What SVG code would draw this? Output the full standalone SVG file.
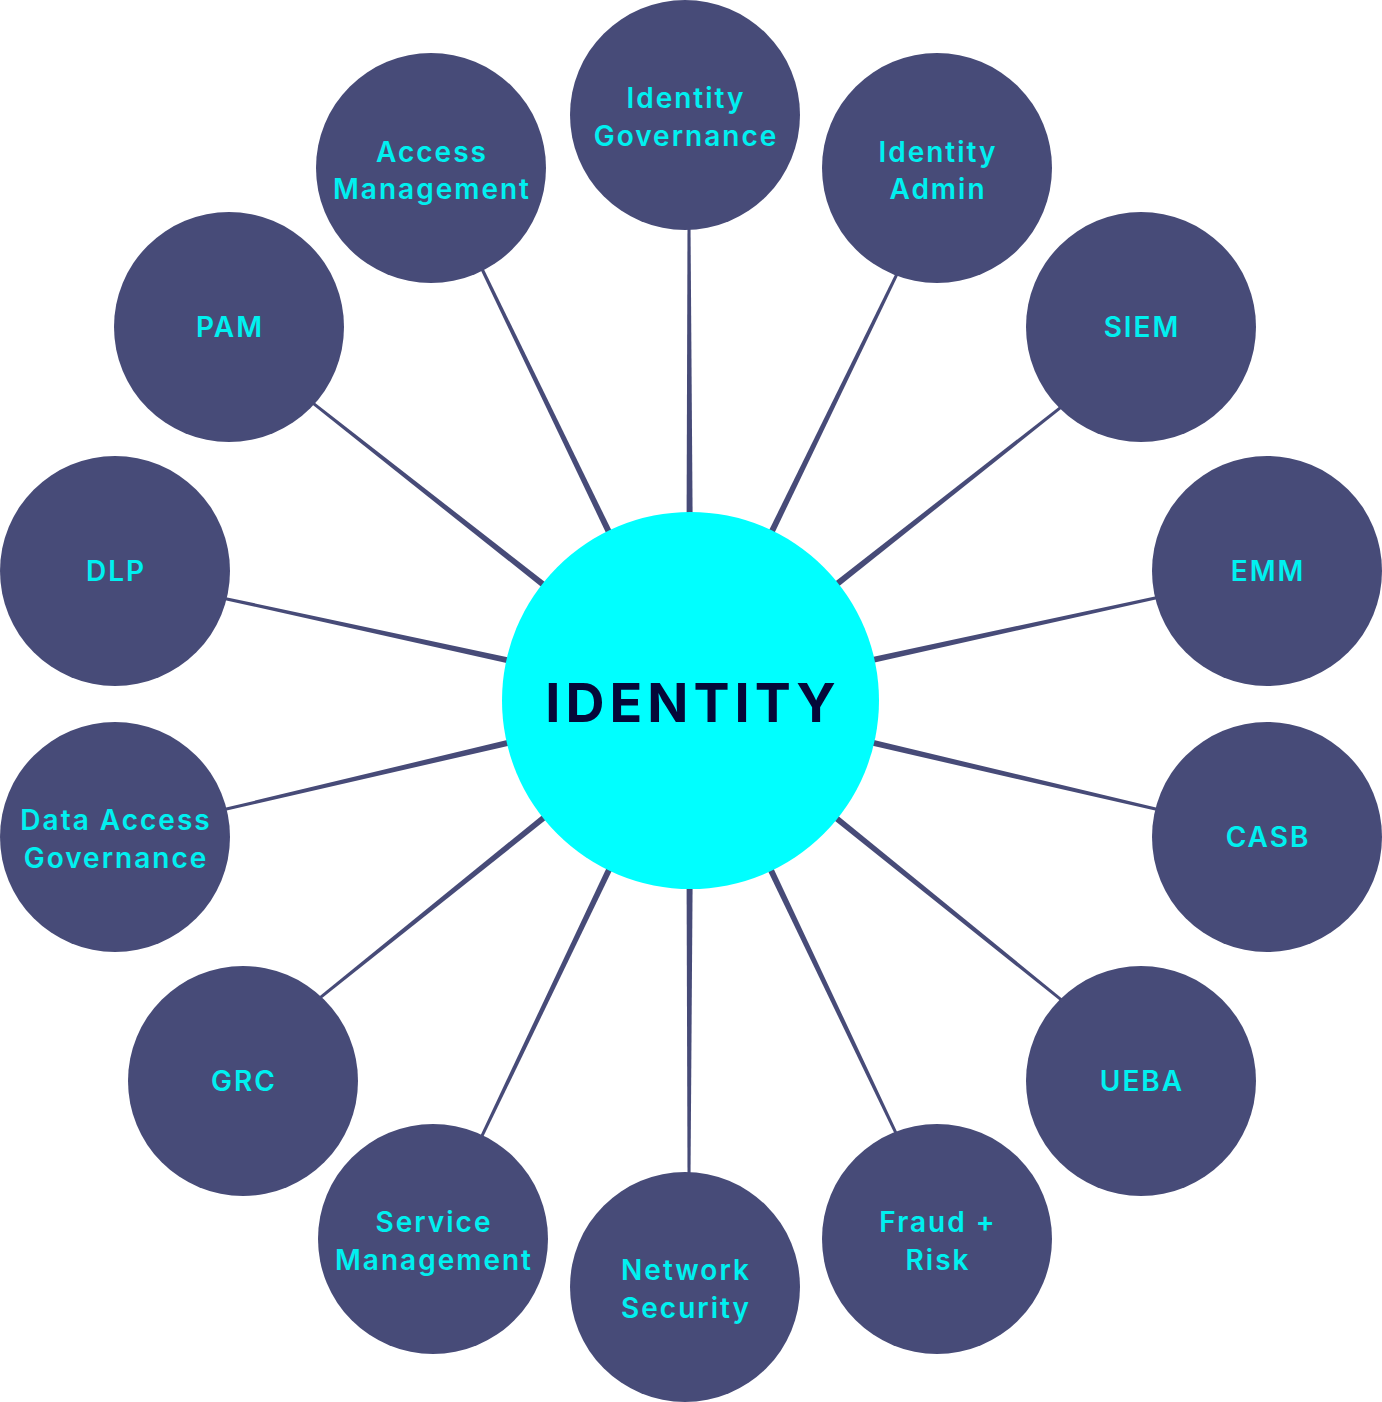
<svg xmlns="http://www.w3.org/2000/svg" width="1382" height="1402" viewBox="0 0 1382 1402">
<style>
.node{fill:#474b78}
.lbl{font-family:Inter,"Noto Sans","Liberation Sans",sans-serif;font-weight:600;font-size:28px;letter-spacing:2px;fill:#00f0f0;text-anchor:middle}
.conn{fill:#474b78}
.hub{fill:#00ffff}
.hubtxt{font-family:Inter,"Noto Sans","Liberation Sans",sans-serif;font-weight:700;font-size:54px;letter-spacing:5px;fill:#050838;text-anchor:middle}
</style>
<rect width="1382" height="1402" fill="#ffffff"/>
<g id="connectors">
<polygon class="conn" points="686.6,515 692.6,515 690.5,224 687.5,224"/>
<polygon class="conn" points="612.3,532.1 606.9,534.7 479.4,267.2 482.2,265.8"/>
<polygon class="conn" points="773.5,534.9 768.1,532.3 896.9,270.8 899.5,272.2"/>
<polygon class="conn" points="546.5,583.2 542.7,588.0 309.2,402.1 311.0,399.7"/>
<polygon class="conn" points="837.1,587.8 833.3,583.0 1063.0,403.7 1064.8,406.1"/>
<polygon class="conn" points="509.9,657.7 508.7,663.5 221.8,599.4 222.4,596.4"/>
<polygon class="conn" points="871.3,663.3 870.1,657.5 1159.6,595.4 1160.2,598.4"/>
<polygon class="conn" points="509.2,739.5 510.6,745.3 222.4,811.6 221.8,808.6"/>
<polygon class="conn" points="869.4,745.1 870.8,739.3 1160.2,808.6 1159.6,811.6"/>
<polygon class="conn" points="544.0,813.7 547.8,818.3 318.0,1001.3 316.2,998.9"/>
<polygon class="conn" points="832.0,818.5 835.8,813.9 1063.8,999.9 1062.0,1002.3"/>
<polygon class="conn" points="607.6,865.7 613.0,868.3 481.2,1141.1 478.4,1139.9"/>
<polygon class="conn" points="766.8,868.4 772.2,865.8 898.5,1134.9 895.7,1136.1"/>
<polygon class="conn" points="686.6,885 692.6,885 690.5,1177 687.5,1177"/>
</g>
<g id="identity-governance"><circle class="node" cx="685" cy="115" r="115"/><text class="lbl" x="686" y="108">Identity</text><text class="lbl" x="686" y="146">Governance</text></g>
<g id="access-management"><circle class="node" cx="431" cy="168" r="115"/><text class="lbl" x="432" y="162">Access</text><text class="lbl" x="432" y="199">Management</text></g>
<g id="identity-admin"><circle class="node" cx="937" cy="168" r="115"/><text class="lbl" x="938" y="162">Identity</text><text class="lbl" x="938" y="199">Admin</text></g>
<g id="pam"><circle class="node" cx="229" cy="327" r="115"/><text class="lbl" x="230" y="337">PAM</text></g>
<g id="siem"><circle class="node" cx="1141" cy="327" r="115"/><text class="lbl" x="1142" y="337">SIEM</text></g>
<g id="dlp"><circle class="node" cx="115" cy="571" r="115"/><text class="lbl" x="116" y="581">DLP</text></g>
<g id="emm"><circle class="node" cx="1267" cy="571" r="115"/><text class="lbl" x="1268" y="581">EMM</text></g>
<g id="data-access-governance"><circle class="node" cx="115" cy="837" r="115"/><text class="lbl" x="116" y="830">Data Access</text><text class="lbl" x="116" y="868">Governance</text></g>
<g id="casb"><circle class="node" cx="1267" cy="837" r="115"/><text class="lbl" x="1268" y="847">CASB</text></g>
<g id="grc"><circle class="node" cx="243" cy="1081" r="115"/><text class="lbl" x="244" y="1091">GRC</text></g>
<g id="ueba"><circle class="node" cx="1141" cy="1081" r="115"/><text class="lbl" x="1142" y="1091">UEBA</text></g>
<g id="service-management"><circle class="node" cx="433" cy="1239" r="115"/><text class="lbl" x="434" y="1232">Service</text><text class="lbl" x="434" y="1270">Management</text></g>
<g id="fraud-risk"><circle class="node" cx="937" cy="1239" r="115"/><text class="lbl" x="938" y="1232">Fraud +</text><text class="lbl" x="938" y="1270">Risk</text></g>
<g id="network-security"><circle class="node" cx="685" cy="1287" r="115"/><text class="lbl" x="686" y="1280">Network</text><text class="lbl" x="686" y="1318">Security</text></g>
<g id="identity"><circle class="hub" cx="690.5" cy="700.5" r="188.5"/><text class="hubtxt" x="693" y="722">IDENTITY</text></g>
</svg>
